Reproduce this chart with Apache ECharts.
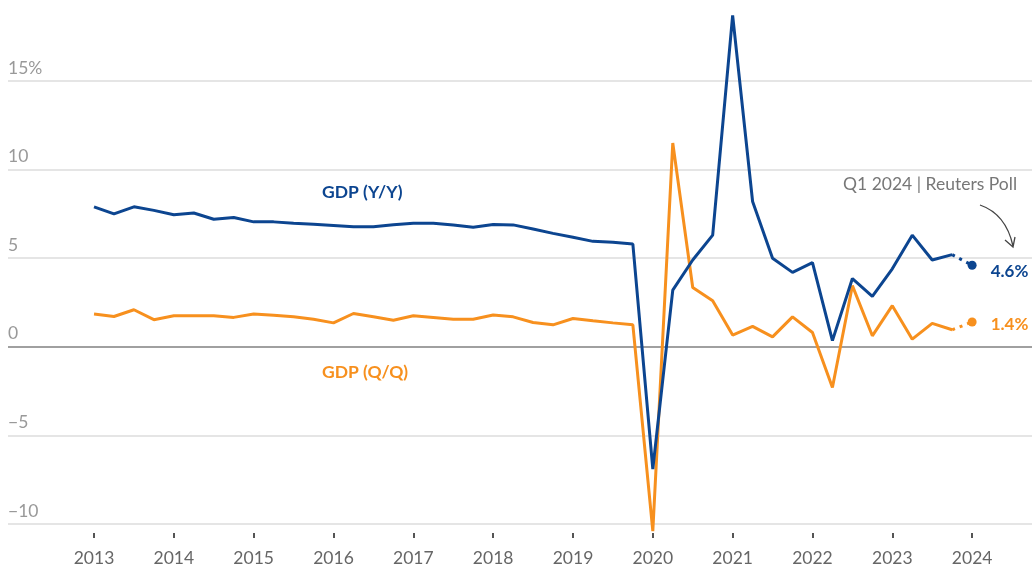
<!DOCTYPE html>
<html><head><meta charset="utf-8">
<script src="https://cdn.jsdelivr.net/npm/echarts@6/dist/echarts.min.js"></script>
<style>html,body{margin:0;padding:0;background:#fff}#c{width:1032px;height:568px}</style>
</head><body><div id="c"></div>
<script>
// Year tick labels (one per Q1)
const years = ['2013','2014','2015','2016','2017','2018','2019','2020','2021','2022','2023','2024'];
// China GDP, year-on-year %, 2013 Q1 .. 2023 Q4
const yoy = [7.9,7.5,7.9,7.7, 7.45,7.55,7.2,7.3, 7.05,7.05,6.97,6.92,
             6.85,6.78,6.78,6.89, 6.97,6.97,6.87,6.75, 6.9,6.88,6.65,6.4,
             6.18,5.95,5.9,5.8, -6.9,3.2,4.9,6.3, 18.7,8.2,5.0,4.2,
             4.75,0.35,3.85,2.85, 4.4,6.3,4.9,5.2];
// China GDP, quarter-on-quarter %, 2013 Q1 .. 2023 Q4
const qoq = [1.85,1.71,2.09,1.53, 1.75,1.75,1.75,1.66, 1.85,1.78,1.7,1.55,
             1.35,1.88,1.69,1.5, 1.75,1.66,1.56,1.56, 1.79,1.69,1.37,1.24,
             1.6,1.47,1.35,1.24, -10.4,11.5,3.35,2.6, 0.66,1.15,0.56,1.69,
             0.81,-2.3,3.45,0.62, 2.32,0.43,1.32,0.96];
// Q1 2024 Reuters poll
const pollYoY = 4.6;
const pollQoQ = 1.4;

const BLUE = '#0c4590';
const ORANGE = '#f7901e';
const FONT = 'Lato';

const n = yoy.length;
const yoyData = yoy.map((v,i)=>[i,v]);
const qoqData = qoq.map((v,i)=>[i,v]);
const yoyPoll = [[n-1, yoy[n-1]], [n, pollYoY]];
const qoqPoll = [[n-1, qoq[n-1]], [n, pollQoQ]];
const yearTicks = years.map((y,k)=>k*4);

function pollPoints(pts, val, color, dy){
  return pts.map((p,i)=> i===1 ? {value:p, symbolSize:9, itemStyle:{color:color},
    label:{show:true, position:'right', distance:14, offset:[0,dy], formatter:val.toFixed(1)+'%',
      color:color, fontWeight:'bold', fontFamily:FONT, fontSize:17}} : {value:p, symbolSize:0});
}

const chart = echarts.init(document.getElementById('c'), null, {renderer:'canvas'});
chart.setOption({
  animation:false,
  backgroundColor:'#fff',
  grid:{left:8, right:0, top:81, bottom:44, containLabel:false},
  xAxis:{
    type:'value', min:-4.31, max:47.0, offset:9,
    axisLine:{show:false, onZero:false},
    splitLine:{show:false},
    axisTick:{show:true, length:5, customValues:yearTicks, lineStyle:{color:'#555', width:2}},
    axisLabel:{customValues:yearTicks, formatter:v=>years[Math.round(v/4)], color:'#666',
      fontFamily:FONT, fontSize:17.5, margin:16}
  },
  yAxis:{
    type:'value', min:-10, max:15, interval:5,
    axisLine:{show:false}, axisTick:{show:false},
    axisLabel:{inside:true, margin:0, verticalAlign:'bottom', padding:[0,0,4,0],
      color:'#999', fontFamily:FONT, fontSize:17.5,
      formatter:v=> v===15 ? '15%' : (v<0 ? '\u2212'+Math.abs(v) : String(v))},
    splitLine:{show:true, lineStyle:{color:['#dcdcdc','#dcdcdc','#808080','#dcdcdc','#dcdcdc','#dcdcdc'], width:1.5}}
  },
  series:[
    {type:'line', data:qoqData, showSymbol:false, clip:false, z:3,
     lineStyle:{color:ORANGE, width:3, join:'bevel'}},
    {type:'line', data:yoyData, showSymbol:false, clip:false, z:4,
     lineStyle:{color:BLUE, width:3, join:'bevel'}},
    {type:'line', clip:false, z:4, symbol:'circle',
     lineStyle:{color:BLUE, width:3, type:[3,5]},
     data: pollPoints(yoyPoll, pollYoY, BLUE, 6)},
    {type:'line', clip:false, z:3, symbol:'circle',
     lineStyle:{color:ORANGE, width:3, type:[3,5]},
     data: pollPoints(qoqPoll, pollQoQ, ORANGE, 3)}
  ],
  graphic:[
    {type:'text', left:322, top:183, style:{text:'GDP (Y/Y)', fill:BLUE, font:'bold 17.5px '+FONT}},
    {type:'text', left:322, top:363, style:{text:'GDP (Q/Q)', fill:ORANGE, font:'bold 17.5px '+FONT}},
    {type:'text', left:843, top:175, style:{text:'Q1 2024 | Reuters Poll', fill:'#777', font:'17.5px '+FONT}},
    {type:'bezierCurve', shape:{x1:980, y1:205, x2:1013, y2:246, cpx1:1006, cpy1:214},
      style:{stroke:'#444', lineWidth:1.3, fill:null}},
    {type:'polyline', shape:{points:[[1005,240],[1013,247],[1015,237]]},
      style:{stroke:'#444', lineWidth:1.3, fill:null}}
  ]
});
</script>
</body></html>
